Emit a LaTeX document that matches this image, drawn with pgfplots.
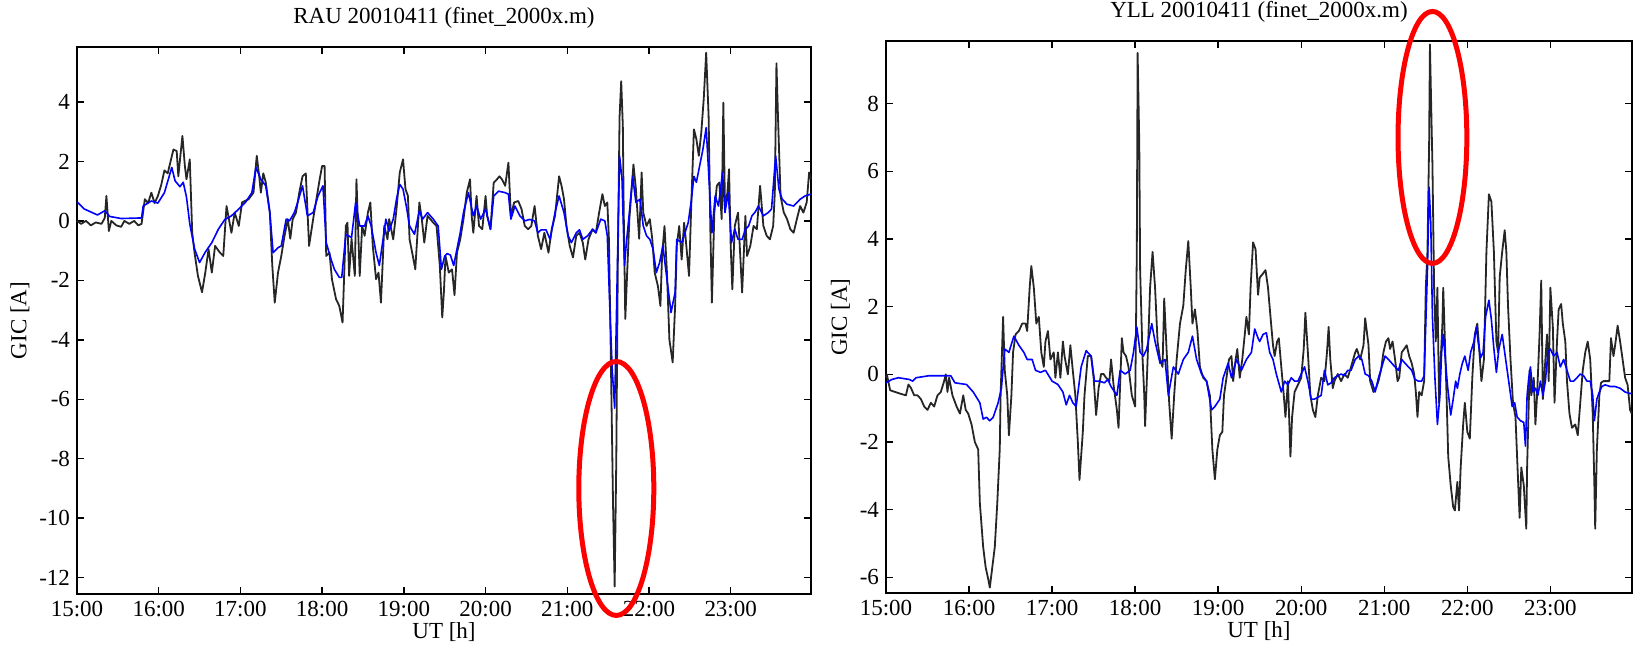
\documentclass[border=0pt]{standalone}
\usepackage{pgfplots}
\pgfplotsset{compat=1.18}
\usepackage{fontspec}
\setmainfont{Liberation Serif}
\newcommand{\fsz}{\fontsize{11.5}{13}\selectfont}
\pgfplotsset{
  gicax/.style={
    scale only axis,
    xmin=15, xmax=23.983,
    xtick={15,16,17,18,19,20,21,22,23},
    xticklabels={15:00,16:00,17:00,18:00,19:00,20:00,21:00,22:00,23:00},
    tick align=inside,
    major tick length=3.5pt,
    axis line style={line width=0.8pt},
    every tick/.style={black, line width=0.7pt},
    tick label style={font=\fsz},
    label style={font=\fsz},
    title style={font=\fsz},
    xlabel={UT [h]},
    ylabel={GIC [A]},
    xlabel style={yshift=4pt},
    ylabel style={yshift=-2pt},
    clip=false,
    anchor=south west,
  },
  meas/.style={black!85, line width=0.9pt, line join=round},
  modl/.style={blue, line width=0.8pt, line join=round},
}
\begin{document}
\begin{tikzpicture}
\path[use as bounding box] (0,0) rectangle (817pt,323.5pt);
% ---------------- Left panel: RAU ----------------
\begin{axis}[gicax,
  at={(38.5pt,26.5pt)}, width=367pt, height=273.5pt,
  ymin=-12.55, ymax=5.85,
  ytick={-12,-10,-8,-6,-4,-2,0,2,4},
  yticklabels={-12,-10,-8,-6,-4,-2,0,2,4},
  title={RAU 20010411 (finet\_2000x.m)}]
\addplot[meas] table {
15.00 0.0
15.05 -0.1
15.11 0.0
15.17 -0.15
15.23 -0.05
15.30 -0.1
15.34 0.1
15.36 0.84
15.39 -0.34
15.42 0.0
15.48 -0.15
15.54 -0.2
15.58 0.0
15.64 -0.1
15.70 0.0
15.75 -0.15
15.79 -0.1
15.83 0.73
15.87 0.6
15.91 0.95
15.95 0.6
15.99 0.84
16.03 1.2
16.07 1.7
16.11 1.6
16.18 2.4
16.22 2.35
16.24 1.5
16.29 2.86
16.32 1.85
16.34 1.4
16.38 2.07
16.41 -0.4
16.44 -1.1
16.48 -1.85
16.53 -2.4
16.57 -1.74
16.61 -0.95
16.65 -1.74
16.69 -0.84
16.75 -1.07
16.79 -1.18
16.83 0.5
16.89 -0.4
16.93 0.28
16.98 -0.17
17.02 0.62
17.10 0.73
17.16 0.95
17.20 2.19
17.23 1.5
17.25 0.95
17.28 1.6
17.31 1.3
17.36 0.28
17.39 -1.5
17.42 -2.75
17.46 -1.74
17.50 -1.18
17.54 -0.5
17.58 0.06
17.61 -0.6
17.64 0.06
17.68 0.28
17.72 0.95
17.76 1.5
17.80 1.6
17.84 -0.84
17.89 0.06
17.93 0.73
17.97 1.4
18.00 1.85
18.03 1.85
18.05 -1.18
18.09 -1.07
18.12 -1.96
18.17 -2.63
18.21 -2.86
18.25 -3.42
18.29 -0.17
18.31 -0.06
18.33 -1.85
18.36 -0.6
18.40 -1.85
18.42 1.4
18.46 -1.85
18.49 -0.17
18.52 -0.5
18.56 0.28
18.59 0.62
18.62 -0.84
18.66 -1.96
18.69 -1.74
18.72 -2.75
18.76 -0.17
18.80 -0.62
18.82 0.06
18.87 -0.62
18.91 0.4
18.95 1.63
18.99 2.07
19.02 1.07
19.05 0.84
19.07 -0.62
19.11 -1.18
19.14 -1.63
19.19 0.62
19.22 0.06
19.25 -0.73
19.29 0.17
19.36 -0.06
19.40 -0.17
19.44 -1.5
19.47 -3.25
19.49 -2.4
19.51 -1.18
19.55 -1.74
19.59 -1.63
19.62 -2.5
19.65 -1.07
19.69 -0.62
19.73 0.06
19.77 0.95
19.81 1.4
19.83 0.17
19.85 -0.4
19.89 0.84
19.92 -0.17
19.96 -0.28
20.00 0.84
20.02 0.17
20.06 -0.28
20.10 1.29
20.14 1.4
20.17 1.5
20.20 1.4
20.24 1.18
20.28 1.96
20.31 0.17
20.35 0.62
20.40 0.67
20.44 0.4
20.48 -0.17
20.52 -0.28
20.56 -0.17
20.60 0.5
20.64 -0.5
20.68 -0.95
20.72 -0.4
20.77 -1.07
20.81 -0.28
20.85 0.17
20.90 1.5
20.93 1.18
20.96 0.73
20.99 -0.17
21.03 -0.84
21.07 -1.23
21.11 -0.5
21.15 -0.4
21.19 -0.73
21.22 -1.3
21.26 -0.62
21.31 -0.28
21.35 -0.4
21.39 0.28
21.43 0.9
21.46 0.5
21.49 0.62
21.51 -0.62
21.53 -4.0
21.56 -9.5
21.58 -12.3
21.60 -8.0
21.62 -1.0
21.64 3.5
21.66 4.7
21.68 3.2
21.69 0.5
21.71 -3.3
21.76 0.06
21.81 1.9
21.84 1.07
21.88 -0.6
21.91 1.63
21.93 0.28
21.97 -0.17
22.01 0.06
22.04 -0.6
22.07 -1.74
22.11 -2.2
22.14 -2.86
22.16 -1.18
22.19 -0.17
22.22 -1.74
22.25 -4.0
22.29 -4.76
22.32 -2.86
22.34 -0.84
22.37 -0.17
22.40 -1.3
22.43 -0.06
22.45 -0.62
22.49 -1.85
22.52 0.73
22.55 3.08
22.58 2.75
22.61 2.19
22.64 2.97
22.67 4.1
22.70 5.66
22.73 3.5
22.75 -0.17
22.77 -2.75
22.80 0.28
22.83 1.18
22.86 1.29
22.89 0.06
22.91 3.98
22.93 0.5
22.96 0.95
22.98 1.74
23.00 -0.84
23.02 -2.3
23.05 -0.17
23.09 0.28
23.14 -2.41
23.18 0.17
23.20 -1.18
23.24 -0.84
23.28 -0.17
23.32 -0.28
23.36 1.18
23.40 -0.17
23.44 -0.5
23.48 -0.62
23.52 -0.17
23.54 0.95
23.56 5.3
23.58 3.4
23.61 0.84
23.65 0.28
23.69 0.06
23.73 -0.28
23.77 -0.4
23.81 0.06
23.85 0.5
23.89 0.28
23.93 0.62
23.96 1.63
23.98 1.4
};
\addplot[modl] table {
15.00 0.64
15.09 0.4
15.25 0.2
15.34 0.34
15.40 0.15
15.54 0.08
15.79 0.1
15.81 0.5
15.91 0.67
15.99 0.6
16.07 0.95
16.16 1.8
16.20 1.35
16.26 1.15
16.30 1.3
16.34 0.8
16.38 -0.1
16.44 -0.95
16.50 -1.4
16.57 -1.05
16.65 -0.73
16.73 -0.28
16.81 0.05
16.89 0.17
16.98 0.4
17.06 0.62
17.14 0.95
17.19 1.8
17.25 1.4
17.31 1.18
17.36 0.28
17.40 -1.07
17.46 -0.9
17.50 -0.84
17.56 0.06
17.60 0.0
17.66 0.28
17.70 0.62
17.76 1.18
17.82 0.17
17.89 0.28
17.95 0.84
18.01 1.18
18.05 -0.73
18.11 -1.3
18.15 -1.63
18.21 -1.9
18.24 -1.9
18.29 -0.45
18.36 -0.56
18.41 0.62
18.46 -0.17
18.52 -0.17
18.56 0.17
18.60 -0.17
18.66 -1.07
18.70 -1.5
18.74 -0.73
18.78 0.06
18.82 -0.34
18.87 0.06
18.91 0.73
18.95 1.23
18.99 1.07
19.03 0.5
19.07 -0.17
19.13 -0.45
19.19 0.34
19.23 0.06
19.29 0.28
19.36 0.06
19.42 -0.17
19.46 -1.63
19.50 -1.18
19.53 -1.1
19.57 -1.15
19.61 -1.5
19.65 -0.95
19.69 -0.4
19.73 0.28
19.79 0.95
19.85 0.17
19.89 0.5
19.94 0.06
20.00 0.4
20.06 -0.28
20.10 0.84
20.16 1.0
20.24 0.95
20.28 0.9
20.31 0.06
20.36 0.5
20.42 0.17
20.48 0.0
20.54 0.05
20.60 0.0
20.64 -0.4
20.68 -0.3
20.74 -0.3
20.79 -0.62
20.85 0.28
20.90 0.84
20.96 0.28
21.01 -0.5
21.05 -0.73
21.11 -0.4
21.15 -0.3
21.19 -0.62
21.25 -0.5
21.31 -0.28
21.35 -0.4
21.41 0.06
21.46 0.0
21.49 -0.5
21.52 -2.86
21.55 -5.0
21.58 -6.3
21.61 -2.0
21.64 2.19
21.67 1.4
21.70 -1.5
21.72 -0.84
21.76 0.28
21.80 1.5
21.84 0.62
21.89 0.73
21.93 -0.17
21.97 -0.5
22.01 -0.62
22.05 -0.95
22.09 -1.74
22.13 -1.4
22.17 -0.84
22.21 -1.74
22.27 -3.08
22.32 -2.4
22.34 -0.62
22.40 -0.73
22.44 -0.4
22.48 -0.06
22.52 0.73
22.55 1.5
22.58 1.3
22.62 1.85
22.66 2.41
22.70 3.14
22.73 1.63
22.77 -0.4
22.81 0.84
22.85 0.5
22.90 1.63
22.93 0.28
22.97 0.95
23.01 -0.73
23.05 -0.28
23.09 -0.62
23.14 -0.62
23.18 -0.28
23.22 -0.17
23.26 0.17
23.30 0.3
23.34 0.5
23.40 0.17
23.46 0.28
23.50 0.4
23.55 2.19
23.59 1.07
23.63 0.73
23.69 0.56
23.77 0.5
23.85 0.73
23.91 0.84
23.98 0.9
};
\draw[red, line width=2.5pt] (axis cs:21.6,-9.0) ellipse [x radius=18.75pt, y radius=63.5pt];
\end{axis}
% ---------------- Right panel: YLL ----------------
\begin{axis}[gicax,
  at={(443pt,27pt)}, width=373pt, height=276pt,
  ymin=-6.46, ymax=9.85,
  ytick={-6,-4,-2,0,2,4,6,8},
  yticklabels={-6,-4,-2,0,2,4,6,8},
  title={YLL 20010411 (finet\_2000x.m)}]
\addplot[meas] table {
15.00 -0.1
15.01 0.0
15.05 -0.47
15.11 -0.52
15.17 -0.57
15.24 -0.62
15.27 -0.3
15.30 -0.4
15.34 -0.62
15.38 -0.62
15.42 -0.73
15.46 -0.95
15.50 -1.05
15.54 -0.84
15.58 -0.95
15.62 -0.62
15.66 -0.52
15.70 -0.2
15.72 0.0
15.74 -0.52
15.76 -0.1
15.80 -0.62
15.85 -0.95
15.89 -1.16
15.93 -0.62
15.96 -1.05
15.99 -1.16
16.03 -1.48
16.07 -2.0
16.11 -2.22
16.13 -3.8
16.17 -5.1
16.20 -5.7
16.23 -6.04
16.25 -6.3
16.28 -5.7
16.31 -5.1
16.34 -3.8
16.37 -2.2
16.38 -0.62
16.41 1.7
16.43 0.12
16.46 -0.62
16.48 -1.8
16.51 -0.62
16.53 0.65
16.56 1.18
16.60 1.28
16.64 1.5
16.68 1.5
16.70 1.28
16.73 2.56
16.75 3.2
16.78 2.56
16.81 1.5
16.84 1.7
16.87 0.65
16.90 0.22
16.92 0.97
16.95 1.28
16.98 0.44
17.02 0.65
17.04 -0.1
17.07 0.65
17.10 -0.1
17.13 0.97
17.15 0.54
17.19 0.0
17.22 0.86
17.25 0.1
17.28 -0.62
17.31 -2.0
17.33 -3.12
17.37 -1.7
17.39 -0.62
17.43 0.54
17.47 0.54
17.50 -0.1
17.53 -1.2
17.56 -0.41
17.59 0.01
17.62 0.01
17.65 -0.1
17.69 -0.2
17.71 0.44
17.74 -0.31
17.78 -1.05
17.80 -1.58
17.84 1.07
17.86 0.65
17.89 0.54
17.92 0.22
17.96 -0.62
18.00 -0.95
18.02 3.6
18.03 9.5
18.05 6.8
18.06 3.1
18.09 0.44
18.11 -0.62
18.12 -1.53
18.15 0.44
18.18 2.56
18.21 3.62
18.24 2.56
18.27 0.97
18.30 0.44
18.33 0.22
18.35 2.24
18.38 0.65
18.41 -0.84
18.44 -1.9
18.47 -0.62
18.50 0.44
18.54 1.5
18.58 2.03
18.61 3.1
18.64 3.94
18.67 2.56
18.69 1.5
18.72 1.92
18.75 1.29
18.78 0.22
18.82 -0.1
18.86 -0.2
18.90 -0.62
18.93 -2.22
18.96 -3.1
18.99 -2.22
19.02 -1.8
19.05 -1.7
19.07 -0.62
19.10 -0.1
19.13 0.44
19.16 0.54
19.18 -0.2
19.21 0.44
19.23 0.75
19.26 -0.1
19.29 0.44
19.32 1.18
19.34 1.7
19.37 1.18
19.39 2.56
19.42 3.9
19.45 3.7
19.48 2.35
19.50 2.86
19.54 2.98
19.57 3.08
19.60 2.56
19.63 1.7
19.66 0.86
19.68 0.54
19.71 0.97
19.73 1.07
19.76 0.22
19.79 -0.62
19.81 -1.26
19.84 -0.2
19.87 -2.43
19.89 -1.26
19.92 -0.52
19.96 -0.31
20.00 -0.1
20.03 0.75
20.05 1.82
20.08 0.65
20.11 -0.62
20.14 -1.05
20.17 -1.26
20.20 -0.62
20.24 -0.1
20.28 -0.2
20.31 0.65
20.33 1.4
20.35 0.44
20.38 -0.41
20.40 -0.2
20.44 0.01
20.48 -0.2
20.52 0.01
20.56 -0.1
20.60 0.22
20.65 0.65
20.67 0.75
20.71 0.44
20.75 0.86
20.77 1.66
20.81 0.86
20.83 -0.2
20.87 -0.52
20.90 -0.41
20.93 -0.2
20.96 0.12
20.99 0.65
21.02 0.97
21.05 1.07
21.07 0.75
21.10 0.97
21.13 0.44
21.16 -0.2
21.18 -0.1
21.21 0.65
21.24 0.75
21.27 0.86
21.30 0.54
21.33 0.33
21.36 0.01
21.38 -0.52
21.40 -1.26
21.42 -0.52
21.45 -0.62
21.48 -0.2
21.50 2.56
21.52 3.62
21.54 6.8
21.55 9.75
21.57 7.33
21.58 6.2
21.60 2.56
21.62 0.97
21.64 2.56
21.66 -0.84
21.67 -0.1
21.70 1.5
21.71 2.56
21.73 1.0
21.75 -0.62
21.77 -2.43
21.80 -3.28
21.83 -3.92
21.85 -4.02
21.88 -3.18
21.90 -4.02
21.92 -2.75
21.95 -1.48
21.97 -0.84
22.00 -1.7
22.03 -1.9
22.06 -0.1
22.09 1.18
22.12 1.5
22.14 0.86
22.17 -0.2
22.20 0.44
22.23 3.62
22.26 5.32
22.29 5.1
22.32 3.62
22.35 0.97
22.37 0.65
22.39 2.88
22.42 3.62
22.45 4.26
22.47 3.62
22.49 2.03
22.52 0.44
22.55 -0.84
22.58 -1.26
22.61 -3.07
22.63 -4.24
22.65 -2.75
22.68 -3.28
22.71 -4.56
22.72 -2.75
22.75 0.12
22.77 -0.62
22.80 -0.1
22.82 -1.48
22.84 -0.62
22.87 1.18
22.89 2.77
22.91 -0.73
22.94 0.44
22.96 1.18
22.98 -0.2
23.00 2.56
23.03 1.4
23.05 -0.84
23.08 0.97
23.10 1.92
23.13 2.08
23.15 1.5
23.18 0.97
23.20 -0.2
23.23 -1.16
23.26 -1.58
23.30 -1.48
23.33 -1.8
23.36 -0.84
23.39 0.12
23.42 0.65
23.45 0.97
23.48 0.44
23.51 -1.16
23.53 -3.28
23.54 -4.56
23.56 -2.22
23.59 -0.62
23.61 -0.25
23.64 -0.2
23.68 -0.2
23.71 -0.2
23.73 1.07
23.76 0.54
23.78 0.86
23.81 1.44
23.84 0.97
23.87 0.44
23.90 -0.1
23.93 -0.31
23.96 -1.05
23.98 -1.16
};
\addplot[modl] table {
15.00 -0.25
15.07 -0.15
15.15 -0.1
15.28 -0.15
15.32 -0.2
15.36 -0.1
15.52 -0.04
15.72 -0.04
15.78 -0.04
15.83 -0.25
15.97 -0.3
16.05 -0.52
16.13 -0.84
16.17 -1.32
16.21 -1.27
16.25 -1.37
16.29 -1.27
16.35 -0.84
16.39 -0.4
16.43 0.75
16.48 0.65
16.54 1.13
16.60 0.86
16.66 0.65
16.70 0.44
16.76 0.44
16.80 0.12
16.86 0.06
16.92 0.12
16.96 -0.04
17.00 -0.2
17.07 -0.3
17.13 -0.52
17.17 -0.9
17.21 -0.62
17.25 -0.84
17.29 -0.95
17.35 0.22
17.41 0.7
17.47 0.54
17.51 -0.2
17.57 -0.2
17.63 -0.25
17.67 -0.15
17.71 -0.36
17.78 -0.62
17.82 0.12
17.88 0.01
17.94 0.12
17.98 0.65
18.02 1.4
18.06 0.65
18.10 0.54
18.14 0.75
18.20 1.5
18.24 0.97
18.30 0.33
18.36 0.44
18.40 -0.62
18.46 0.22
18.52 0.01
18.58 0.44
18.64 0.65
18.69 1.13
18.74 0.44
18.80 0.01
18.86 -0.2
18.92 -1.05
18.96 -0.95
19.02 -0.73
19.06 -0.1
19.12 0.33
19.16 -0.1
19.22 0.44
19.28 0.12
19.34 0.44
19.40 0.65
19.44 1.34
19.48 1.07
19.50 0.97
19.54 1.18
19.58 1.23
19.62 0.65
19.66 0.44
19.70 0.01
19.76 -0.52
19.80 -0.2
19.84 -0.31
19.88 -0.1
19.92 -0.2
19.96 -0.2
20.00 0.01
20.04 0.22
20.08 -0.2
20.12 -0.73
20.16 -0.73
20.20 -0.68
20.24 -0.62
20.28 0.12
20.32 -0.31
20.36 -0.25
20.40 -0.1
20.44 -0.04
20.48 0.01
20.52 -0.04
20.56 0.12
20.60 0.12
20.65 0.44
20.69 0.54
20.73 0.44
20.77 0.01
20.81 -0.04
20.85 -0.2
20.89 -0.52
20.93 -0.1
20.97 0.22
21.01 0.54
21.05 0.44
21.09 0.33
21.13 0.22
21.17 0.12
21.21 0.44
21.25 0.33
21.29 0.22
21.33 0.12
21.37 -0.15
21.41 -0.2
21.45 -0.2
21.48 -0.04
21.50 1.5
21.52 3.1
21.54 5.53
21.56 4.47
21.58 1.7
21.61 -0.1
21.64 -1.48
21.67 -0.62
21.69 0.65
21.71 1.18
21.73 0.6
21.76 -0.3
21.80 -1.2
21.83 -0.73
21.86 -0.2
21.88 -0.41
21.91 0.01
21.94 0.33
21.97 0.54
22.01 0.12
22.04 0.65
22.08 0.97
22.11 1.4
22.13 0.97
22.16 0.49
22.19 0.65
22.22 1.7
22.26 2.19
22.29 1.61
22.32 0.75
22.35 0.06
22.38 0.75
22.42 1.18
22.45 0.65
22.48 0.12
22.51 -0.41
22.54 -0.95
22.57 -0.84
22.60 -1.26
22.64 -1.37
22.68 -1.42
22.70 -2.12
22.72 -0.62
22.74 -0.1
22.76 0.22
22.79 -0.52
22.82 -0.41
22.85 -0.62
22.88 -0.2
22.91 -0.62
22.94 -0.2
22.97 0.65
23.00 0.75
23.04 0.54
23.08 0.65
23.12 0.22
23.16 0.44
23.20 0.12
23.24 -0.2
23.28 -0.2
23.32 -0.1
23.36 0.01
23.40 -0.04
23.44 -0.2
23.48 -0.2
23.51 -0.62
23.53 -1.37
23.56 -0.73
23.59 -0.52
23.62 -0.36
23.66 -0.31
23.72 -0.36
23.78 -0.36
23.84 -0.41
23.90 -0.52
23.96 -0.57
23.98 -0.55
};
\draw[red, line width=2.5pt] (axis cs:21.58,7.0) ellipse [x radius=17.2pt, y radius=63pt];
\end{axis}
\end{tikzpicture}
\end{document}
